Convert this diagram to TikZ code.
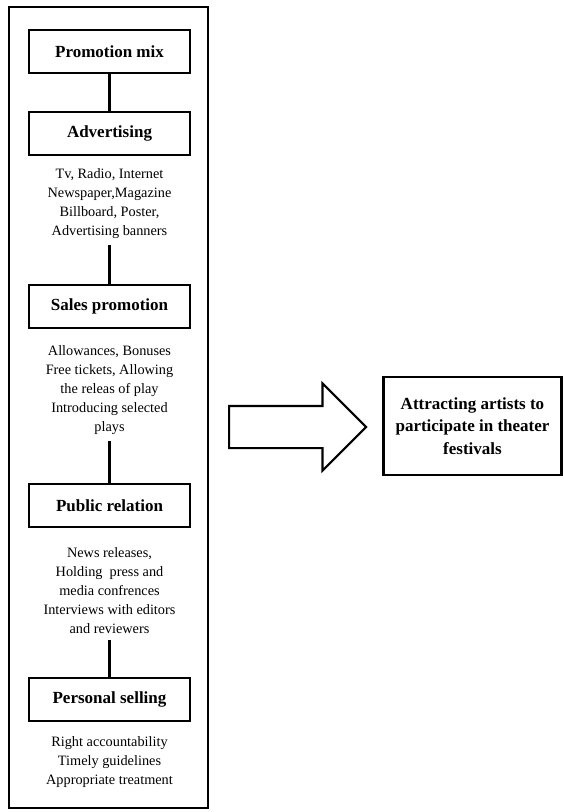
\documentclass[tikz,border=0pt]{standalone}
\usepackage{fontspec}
\setmainfont{Liberation Serif}
\usetikzlibrary{shapes.arrows}
\begin{document}
\begin{tikzpicture}[x=1pt,y=-1pt,
  heading/.style={draw,line width=2.4pt,minimum width=161pt,minimum height=43pt,inner sep=0pt,font=\fontsize{17}{21}\selectfont\bfseries},
  items/.style={align=center,inner sep=0pt,font=\fontsize{14.3}{19}\selectfont},
  link/.style={line width=2.4pt},
  frame/.style={draw,line width=2.2pt,minimum width=199pt,minimum height=801pt,inner sep=0pt}]
\useasboundingbox (0,0) rectangle (564,812);
\node[frame] (outer) at (108.5,407.5) {};
\node[heading] (mix) at (109.5,51.5) {Promotion mix};
\node[heading] (adv) at (109.5,133.5) {Advertising};
\node[items] (advt) at (109.5,204) {Tv, Radio, Internet\\Newspaper,Magazine\\Billboard, Poster,\\Advertising banners};
\node[heading] (sales) at (109.5,306.5) {Sales promotion};
\node[items] (salest) at (109.5,390.5) {Allowances, Bonuses\\Free tickets, Allowing\\the releas of play\\Introducing selected\\plays};
\node[heading] (pub) at (109.5,505.5) {Public relation};
\node[items] (pubt) at (109.5,591) {News releases,\\Holding\ \ press and\\media confrences\\Interviews with editors\\and reviewers};
\node[heading] (pers) at (109.5,699.5) {Personal selling};
\node[items] (perst) at (109.5,762.5) {Right accountability\\Timely guidelines\\Appropriate treatment};
\draw[link] (mix) -- (adv);
\draw[link] ([yshift=-6pt]advt.south) -- (sales.north);
\draw[link] ([yshift=-6pt]salest.south) -- (pub.north);
\draw[link] ([yshift=-6pt]pubt.south) -- (pers.north);
\node[single arrow,draw,line width=2.2pt,minimum height=137pt,minimum width=85pt,
  single arrow head extend=22.5pt,single arrow head indent=0pt,inner xsep=0pt,inner ysep=20pt,
  text height=0pt,text depth=0pt,anchor=tail] (arr) at (228,427) {};
\node[draw,line width=2.4pt,minimum width=178pt,minimum height=98pt,inner sep=0pt,align=center,
  font=\fontsize{17}{22.5}\selectfont\bfseries] (goal) at (472.5,426) {Attracting artists to\\participate in theater\\festivals};
\end{tikzpicture}
\end{document}
